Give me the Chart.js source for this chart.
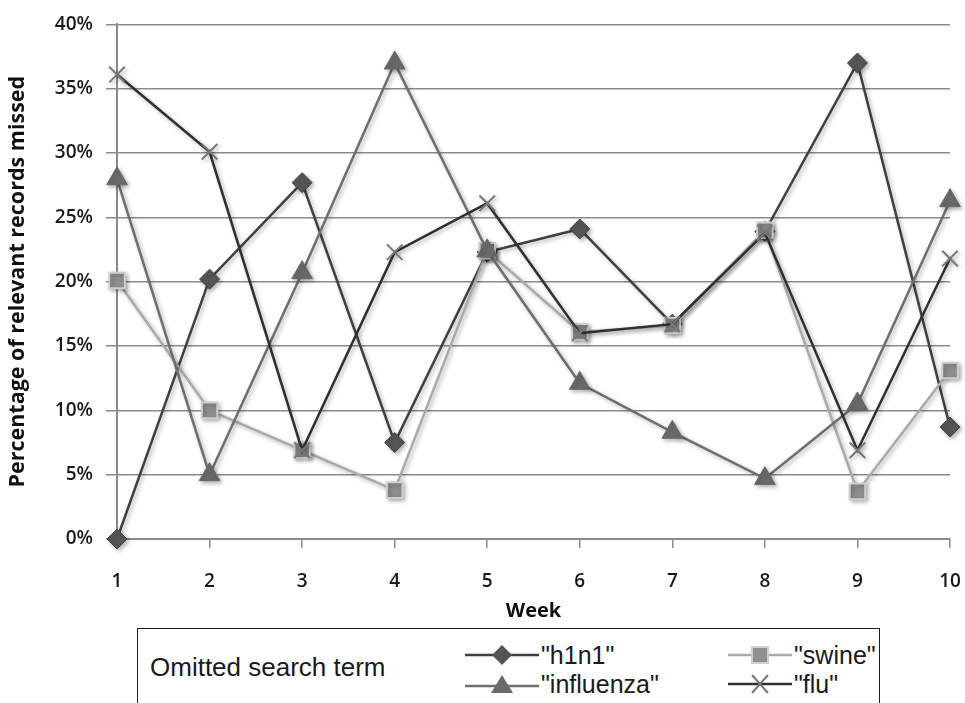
<!doctype html>
<html lang="en">
  <head>
    <meta charset="utf-8">
    <title>Omitted search term</title>
    <script src="https://cdn.jsdelivr.net/npm/chart.js"></script>
    <style>
        body { margin: 0; background: #ffffff; }
        #wrap { position: absolute; left: 0; top: 0; width: 965px; height: 625px; }
        .legend-box {
            position: absolute; left: 137px; top: 628px; width: 743px; height: 110px;
            border: 1.5px solid #1e1e1e; box-sizing: border-box; background: #fff;
            font-family: "Liberation Sans", Arial, sans-serif;
            color: #1a1a1a;
        }
        .legend-title { position: absolute; left: 12px; top: 23px; font-size: 26px; }
        .item { position: absolute; font-size: 25px; display: flex; align-items: center; line-height: 28px; }
        .item svg { margin-right: 2px; }
    </style>
  </head>
  <body>
    <div id="wrap"><canvas id="weekChart" width="965" height="625"></canvas></div>

    <div class="legend-box">
        <div class="legend-title">Omitted search term</div>
        <div class="item" style="left:327px; top:12px;">
            <svg width="74" height="24"><line x1="0" y1="12" x2="74" y2="12" stroke="#404040" stroke-width="2.5"/>
            <polygon points="37,2 47,12 37,22 27,12" fill="#555"/></svg>"h1n1"</div>
        <div class="item" style="left:590px; top:12px;">
            <svg width="64" height="24"><line x1="0" y1="12" x2="64" y2="12" stroke="#aaaaaa" stroke-width="2.5"/>
            <rect x="24" y="4" width="16" height="16" fill="#8f8f8f" stroke="#cfcfcf" stroke-width="2"/></svg>"swine"</div>
        <div class="item" style="left:327px; top:41px;">
            <svg width="74" height="24"><line x1="0" y1="14" x2="74" y2="14" stroke="#6e6e6e" stroke-width="2.5"/>
            <polygon points="37,3 48,21 26,21" fill="#6a6a6a"/></svg>"influenza"</div>
        <div class="item" style="left:590px; top:41px;">
            <svg width="64" height="24"><line x1="0" y1="12" x2="64" y2="12" stroke="#303030" stroke-width="2.5"/>
            <line x1="24" y1="3" x2="40" y2="21" stroke="#777" stroke-width="2"/>
            <line x1="40" y1="3" x2="24" y2="21" stroke="#777" stroke-width="2"/></svg>"flu"</div>
    </div>

    <script>
        // week numbers on the x axis
        const weeks = ['1', '2', '3', '4', '5', '6', '7', '8', '9', '10'];
        // percentage of relevant records missed, per omitted search term
        const h1n1 = [0, 20.2, 27.7, 7.5, 22.3, 24.1, 16.7, 23.9, 37.0, 8.7];
        const swine = [20.1, 10.0, 6.9, 3.8, 22.4, 16.1, 16.6, 24.0, 3.7, 13.1];
        const influenza = [28.0, 5.0, 20.7, 37.0, 22.4, 12.1, 8.3, 4.7, 10.5, 26.3];
        const flu = [36.1, 30.1, 6.9, 22.3, 26.1, 16.0, 16.7, 23.8, 6.9, 21.8];
        const yTicks = [0, 5, 10, 15, 20, 25, 30, 35, 40];

        const axisGrey = '#8a8a8a';
        const tickFont = { family: '"Open Sans", sans-serif', size: 19, weight: '600' };

        // soft drop shadow like the original office chart
        const shadowPlugin = {
            id: 'shadow',
            beforeDatasetDraw(chart) {
                const c = chart.ctx;
                c.save();
                c.shadowColor = 'rgba(0,0,0,0.3)';
                c.shadowBlur = 4;
                c.shadowOffsetX = 2;
                c.shadowOffsetY = 2;
            },
            afterDatasetDraw(chart) { chart.ctx.restore(); }
        };

        const ctx = document.getElementById('weekChart');
        new Chart(ctx, {
            type: 'line',
            data: {
                labels: weeks,
                datasets: [
                    { label: '"h1n1"', data: h1n1, order: 4, clip: false, borderColor: '#404040', borderWidth: 2.5,
                      pointStyle: 'rectRot', pointRadius: 10, pointBackgroundColor: '#555', pointBorderColor: '#444', pointBorderWidth: 1 },
                    { label: '"swine"', data: swine, order: 3, clip: false, borderColor: '#aaaaaa', borderWidth: 2.5,
                      pointStyle: 'rect', pointRadius: 11, pointBackgroundColor: '#8f8f8f', pointBorderColor: '#cfcfcf', pointBorderWidth: 2 },
                    { label: '"influenza"', data: influenza, order: 2, clip: false, borderColor: '#6e6e6e', borderWidth: 2.5,
                      pointStyle: 'triangle', pointRadius: 12, pointBackgroundColor: '#6a6a6a', pointBorderColor: '#6a6a6a', pointBorderWidth: 1 },
                    { label: '"flu"', data: flu, order: 1, clip: false, borderColor: '#303030', borderWidth: 2.5,
                      pointStyle: 'crossRot', pointRadius: 11, pointBackgroundColor: '#777', pointBorderColor: '#777', pointBorderWidth: 2 }
                ]
            },
            options: {
                responsive: false,
                animation: false,
                devicePixelRatio: 1,
                layout: { padding: { top: 19, right: 15, left: 0, bottom: 0 } },
                plugins: { legend: { display: false }, tooltip: { enabled: false } },
                elements: { line: { tension: 0 } },
                scales: {
                    x: {
                        offset: false,
                        grid: { drawOnChartArea: false, drawTicks: true, tickLength: 9, color: axisGrey, lineWidth: 1.5 },
                        border: { color: axisGrey, width: 2 },
                        ticks: { color: '#1a1a1a', font: tickFont, padding: 22, maxRotation: 0 },
                        title: { display: true, text: 'Week', color: '#111', font: { family: '"Open Sans", sans-serif', size: 20, weight: 'bold' }, padding: { top: 0, bottom: 2 } },
                        afterFit(scale) {
                            scale.height = 86;
                            // tick padding should not push the plot in from the right
                            scale.paddingRight = 0;
                            scale.paddingLeft = 0;
                        }
                    },
                    y: {
                        min: 0, max: 40,
                        afterBuildTicks(scale) { scale.ticks = yTicks.map(v => ({ value: v })); },
                        grid: { color: axisGrey, lineWidth: 1.5, drawTicks: true, tickLength: 11 },
                        border: { color: axisGrey, width: 2 },
                        ticks: { color: '#1a1a1a', font: tickFont, padding: 13, callback: v => v + '%' },
                        title: { display: true, text: 'Percentage of relevant records missed', color: '#111', font: { family: '"Open Sans", sans-serif', size: 21.5, weight: 'bold' }, padding: { top: 5, bottom: 4 } },
                        afterFit(scale) { scale.width = 117; }
                    }
                }
            },
            plugins: [shadowPlugin]
        });
    </script>
  </body>
</html>
